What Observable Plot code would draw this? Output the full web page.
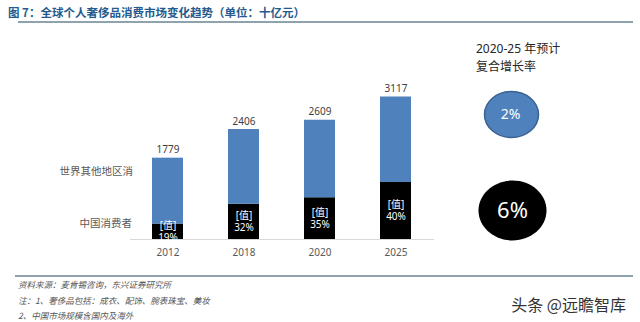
<!DOCTYPE html>
<html>
<head>
<meta charset="utf-8">
<script src="https://cdn.jsdelivr.net/npm/d3@7"></script>
<script src="https://cdn.jsdelivr.net/npm/@observablehq/plot@0.6"></script>
<style>
  body { margin: 0; background: #fff; }
  #wrap { position: relative; width: 640px; height: 322px; overflow: hidden; background: #fff;
          font-family: "Noto Sans", "Noto Sans CJK SC", sans-serif; }
  .abs { position: absolute; white-space: nowrap; }
  .title { left: 8px; top: 5px; font-size: 11.5px; line-height: 15px; font-weight: bold; color: #245a8d;
           font-family: "Noto Sans CJK SC", sans-serif; }
  .rule { position: absolute; height: 1.5px; background: #8fa3ae; }
  .series { font-size: 10.5px; line-height: 13px; color: #595959; text-align: right; font-family: "Noto Sans CJK SC", sans-serif; }
  .note { left: 18px; font-size: 8.5px; line-height: 11px; color: #555; font-style: italic; font-family: "Noto Sans CJK SC", sans-serif; }
  .hdr { left: 476px; font-size: 12px; line-height: 18px; color: #262626; font-family: "Noto Sans", "Noto Sans CJK SC", sans-serif; }
  .wm { right: 14px; top: 294px; font-size: 16px; line-height: 20px; color: #333; font-family: "Noto Sans CJK SC", sans-serif; }
</style>
</head>
<body>
<div id="wrap"></div>
<script>
const years = ["2012", "2018", "2020", "2025"];
const totals = [1779, 2406, 2609, 3117];
const chinaShare = [19, 32, 35, 40];
const seriesNames = ["世界其他地区消", "中国消费者"];
const cagr = [2, 6];
const titleText = "图 7：全球个人奢侈品消费市场变化趋势（单位：十亿元）";
const cagrTitle = ["2020-25 年预计", "复合增长率"];
const notes = ["资料来源：麦肯锡咨询，东兴证券研究所", "注：1、奢侈品包括：成衣、配饰、腕表珠宝、美妆", "2、中国市场规模含国内及海外"];
const watermark = "头条 @远瞻智库";

const rows = years.flatMap((y, i) => {
  const china = totals[i] * chinaShare[i] / 100;
  return [
    {year: y, series: seriesNames[1], value: china},
    {year: y, series: seriesNames[0], value: totals[i] - china}
  ];
});
const labelRows = years.map((y, i) => ({year: y, total: totals[i], china: totals[i] * chinaShare[i] / 100, pct: chinaShare[i]}));

const wrap = document.getElementById("wrap");

const main = Plot.plot({
  width: 640, height: 322,
  marginLeft: 130, marginRight: 206, marginTop: 79, marginBottom: 83,
  style: {fontFamily: "'Noto Sans', 'Noto Sans CJK SC', sans-serif", color: "#595959", background: "transparent"},
  x: {domain: years, paddingInner: 0.59, paddingOuter: 0.295, label: null},
  y: {domain: [0, 3500], axis: null},
  color: {domain: [seriesNames[1], seriesNames[0]], range: ["#000000", "#4f81bd"]},
  marks: [
    Plot.barY(rows, {x: "year", y: "value", fill: "series"}),
    Plot.ruleY([0], {stroke: "#d9d9d9", strokeWidth: 1}),
    Plot.axisX({tickSize: 0, tickPadding: 9, fontSize: 10, label: null}),
    Plot.text(labelRows, {x: "year", y: "total", text: d => String(d.total), dy: -8, fill: "#404040", fontSize: 10}),
    Plot.text(labelRows, {x: "year", y: d => d.china / 2, text: () => "[值]", dy: -6, fill: "white", fontSize: 10}),
    Plot.text(labelRows, {x: "year", y: d => d.china / 2, text: d => `${d.pct}%`, dy: 6, fill: "white", fontSize: 10})
  ]
});
main.style.position = "absolute"; main.style.left = "0px"; main.style.top = "0px";
wrap.appendChild(main);

function ellipse(aspect) {
  return {
    draw(context, size) {
      const rx = Math.sqrt(size / Math.PI), ry = rx * aspect, k = 0.5523;
      context.moveTo(rx, 0);
      context.bezierCurveTo(rx, k * ry, k * rx, ry, 0, ry);
      context.bezierCurveTo(-k * rx, ry, -rx, k * ry, -rx, 0);
      context.bezierCurveTo(-rx, -k * ry, -k * rx, -ry, 0, -ry);
      context.bezierCurveTo(k * rx, -ry, rx, -k * ry, rx, 0);
      context.closePath();
    }
  };
}
const cagrRows = seriesNames.map((s, i) => ({series: s, cagr: cagr[i]}));
const side = Plot.plot({
  width: 200, height: 322,
  marginLeft: 0, marginRight: 58, marginTop: 0, marginBottom: 0,
  style: {fontFamily: "'Noto Sans', sans-serif", background: "transparent"},
  y: {type: "point", domain: seriesNames, range: [114, 210], padding: 0, axis: null},
  marks: [
    Plot.dot(cagrRows.filter(d => d.series === seriesNames[0]), {y: "series", r: 27, symbol: ellipse(0.85), fill: "#4f81bd", stroke: "#3a6190", strokeWidth: 1.5}),
    Plot.dot(cagrRows.filter(d => d.series === seriesNames[1]), {y: "series", r: 34, symbol: ellipse(0.88), fill: "#000", dx: 1}),
    Plot.text(cagrRows.filter(d => d.series === seriesNames[0]), {y: "series", text: d => d.cagr + "%", fill: "white", fontSize: 14, dx: -1}),
    Plot.text(cagrRows.filter(d => d.series === seriesNames[1]), {y: "series", text: d => d.cagr + "%", fill: "white", fontSize: 22, dx: 1})
  ]
});
side.style.position = "absolute"; side.style.left = "440px"; side.style.top = "0px";
wrap.appendChild(side);

function addDiv(cls, text, css) {
  const d = document.createElement("div");
  d.className = "abs " + cls;
  d.textContent = text;
  Object.assign(d.style, css || {});
  wrap.appendChild(d);
  return d;
}
addDiv("title", titleText);
const r1 = document.createElement("div"); r1.className = "rule"; Object.assign(r1.style, {left: "18px", top: "21px", width: "615px"}); wrap.appendChild(r1);
const r2 = document.createElement("div"); r2.className = "rule"; Object.assign(r2.style, {left: "15px", top: "275px", width: "618px"}); wrap.appendChild(r2);
addDiv("series", seriesNames[0], {right: "507px", top: "164px"});
addDiv("series", seriesNames[1], {right: "508px", top: "216px"});
addDiv("hdr", cagrTitle[0], {top: "40px"});
addDiv("hdr", cagrTitle[1], {top: "58px"});
notes.forEach((t, i) => addDiv("note", t, {top: (279 + i * 15.5) + "px"}));
addDiv("wm", watermark);
</script>
</body>
</html>
